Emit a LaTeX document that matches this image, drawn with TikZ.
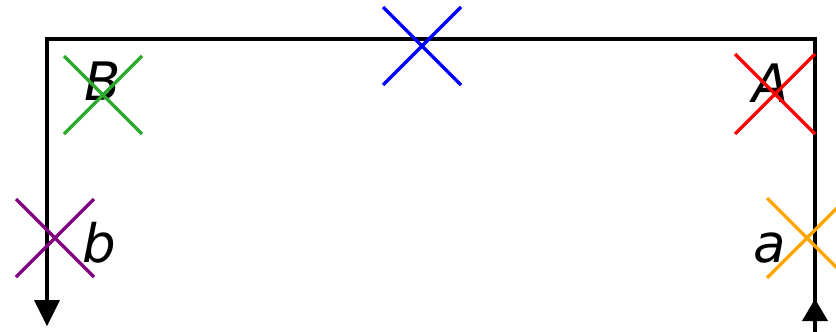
\documentclass[tikz,border=0pt]{standalone}
\usepackage{fontspec}
\setmainfont{DejaVu Sans}
\definecolor{cblue}{RGB}{0,0,255}
\definecolor{cgreen}{RGB}{44,170,44}
\definecolor{cred}{RGB}{255,0,0}
\definecolor{cpurple}{RGB}{128,0,128}
\definecolor{corange}{RGB}{255,165,0}
\tikzset{
  wire/.style={line width=4.3pt, line join=miter, black},
  tip/.style={fill=black, draw=none},
  crossmark/.style={line width=3.4pt},
  lbl/.style={inner sep=0pt, anchor=base, font=\fontsize{53}{60}\selectfont\itshape}
}
\newcommand{\xmark}[3]{\draw[crossmark,#3] ($(#1)+(-#2,-#2)$) -- ($(#1)+(#2,#2)$) ($(#1)+(-#2,#2)$) -- ($(#1)+(#2,-#2)$);}
\usetikzlibrary{calc}
\begin{document}
\begin{tikzpicture}[x=1pt,y=-1pt]
\useasboundingbox (0,0) rectangle (836,332);
\clip (0,0) rectangle (836,332);
% path
\coordinate (start) at (815,332);
\coordinate (tr) at (815,39);
\coordinate (tl) at (47,39);
\coordinate (end) at (47,302);
\draw[wire] (start) -- (tr) -- (tl) -- (end);
% arrow heads
\coordinate (tipR) at (815,299);
\coordinate (tipL) at (47,326);
\fill[tip] (tipR) -- ++(-13,22) -- ++(26,0) -- cycle;
\fill[tip] (tipL) -- ++(-13,-26) -- ++(26,0) -- cycle;
% labels
\node[lbl] (B) at (103,100) {B};
\node[lbl] (A) at (771,102) {A};
\node[lbl] (b) at (99,262) {b};
\node[lbl] (a) at (770,262) {a};
% crosses
\coordinate (cb) at (422,46);
\coordinate (cg) at (103,95);
\coordinate (cr) at (775,94);
\coordinate (cp) at (55,238);
\coordinate (co) at (807,238);
\xmark{cb}{39}{cblue}
\xmark{cg}{39}{cgreen}
\xmark{cr}{40}{cred}
\xmark{cp}{39}{cpurple}
\xmark{co}{40}{corange}
\end{tikzpicture}
\end{document}
